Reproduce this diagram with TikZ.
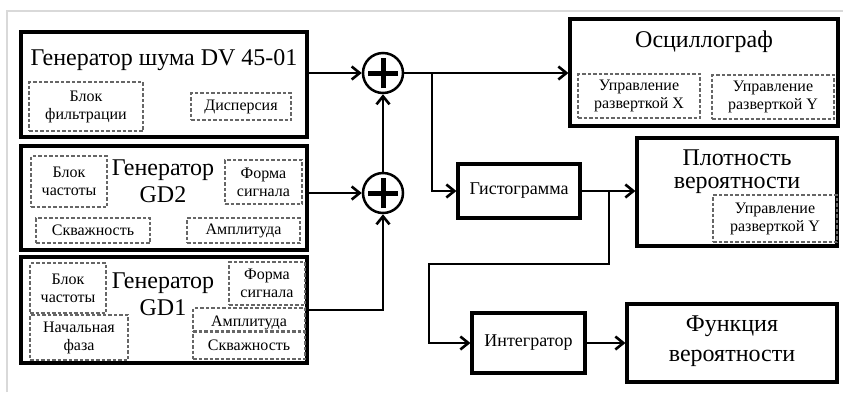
\documentclass[tikz,border=0pt]{standalone}
\usepackage{fontspec}
\setmainfont{Liberation Serif}
\usetikzlibrary{arrows.meta}
\begin{document}
\begin{tikzpicture}[x=1pt,y=-1pt,
  mainbox/.style={draw, line width=3.2pt, inner sep=0pt, align=center},
  subbox/.style={draw=black!60, dash pattern=on 3.5pt off 2pt, line width=1.1pt,
    inner sep=0pt, align=center, font=\fontsize{16}{18}\selectfont},
  bigtext/.style={align=center, inner sep=0pt, font=\fontsize{24}{27}\selectfont},
  midtext/.style={font=\fontsize{18}{21}\selectfont},
  sumnode/.style={draw, circle, line width=2.5pt, minimum size=40pt, inner sep=0pt},
  plusbar/.style={line width=5pt},
  conn/.style={line width=2.6pt, -{Straight Barb[length=8pt,width=13pt]}},
  wire/.style={line width=2.6pt}]

\useasboundingbox (0,0) rectangle (843,392);

% light frame round the sheet
\draw[black!15, line width=1.2pt] (7,392) -- (7,11) -- (843,11);

% --- noise generator ---
\node[mainbox, minimum width=286pt, minimum height=105pt] (noise) at (164,84.5) {};
\node[bigtext] (tnoise) at (164,60) {Генератор шума DV 45-01};
\node[subbox, minimum width=114pt, minimum height=49pt] (nf1) at (86,106.5) {Блок\\фильтрации};
\node[subbox, minimum width=100pt, minimum height=27pt] (nf2) at (241,106.5) {Дисперсия};

% --- generator GD2 ---
\node[mainbox, minimum width=286pt, minimum height=104pt] (gd2) at (164,198) {};
\node[bigtext] (tgd2) at (163,181.5) {Генератор\\GD2};
\node[subbox, minimum width=76pt, minimum height=51pt] (g2a) at (69,181.5) {Блок\\частоты};
\node[subbox, minimum width=77pt, minimum height=44pt] (g2b) at (263.5,182) {Форма\\сигнала};
\node[subbox, minimum width=114pt, minimum height=25pt] (g2c) at (93,230.5) {Скважность};
\node[subbox, minimum width=113pt, minimum height=25pt] (g2d) at (243.5,230.5) {Амплитуда};

% --- generator GD1 ---
\node[mainbox, minimum width=286pt, minimum height=106pt] (gd1) at (164,310) {};
\node[bigtext] (tgd1) at (163,294) {Генератор\\GD1};
\node[subbox, minimum width=76pt, minimum height=50pt] (g1a) at (68,288) {Блок\\частоты};
\node[subbox, minimum width=76pt, minimum height=43pt] (g1b) at (267,283.5) {Форма\\сигнала};
\node[subbox, minimum width=98pt, minimum height=45pt] (g1c) at (79,337.5) {Начальная\\фаза};
\node[subbox, minimum width=112pt, minimum height=23pt] (g1d) at (249,319.5) {};
\node[font=\fontsize{16}{18}\selectfont] (g1dt) at (249,323) {Амплитуда};
\node[subbox, minimum width=112pt, minimum height=27pt] (g1e) at (249,345.5) {Скважность};

% --- adders ---
\node[sumnode] (s1) at (383,73) {};
\node[sumnode] (s2) at (383,193) {};
\foreach \s in {s1,s2}{
  \draw[plusbar] ([xshift=-15pt]\s.center) -- ([xshift=15pt]\s.center);
  \draw[plusbar] ([yshift=-15pt]\s.center) -- ([yshift=15pt]\s.center);
}

% --- oscilloscope ---
\node[mainbox, minimum width=268pt, minimum height=107pt] (osc) at (704,72.5) {};
\node[bigtext] (tosc) at (704,42) {Осциллограф};
\node[subbox, minimum width=122pt, minimum height=44pt] (o1) at (639,96) {Управление\\разверткой X};
\node[subbox, minimum width=122pt, minimum height=44pt] (o2) at (773,97) {Управление\\разверткой Y};

% --- histogram, density ---
\node[mainbox, midtext, minimum width=122pt, minimum height=54pt] (hist) at (519,191) {Гистограмма};
\node[mainbox, minimum width=200pt, minimum height=108pt] (dens) at (737,192) {};
\node[bigtext, font=\fontsize{24}{23}\selectfont] (tdens) at (737,172) {Плотность\\вероятности};
\node[subbox, minimum width=124pt, minimum height=47pt] (d1) at (775,218.5) {Управление\\разверткой Y};

% --- integrator, distribution function ---
\node[mainbox, midtext, minimum width=113pt, minimum height=60pt] (integ) at (528.5,343) {Интегратор};
\node[mainbox, minimum width=210pt, minimum height=78pt] (func) at (732,343) {};
\node[bigtext, font=\fontsize{24}{30}\selectfont] (tfunc) at (732,341) {Функция\\вероятности};

% --- connections ---
\coordinate (j1) at (432,73);
\coordinate (j2) at (609,191);
\coordinate (k1) at (609,264);
\coordinate (k2) at (429,264);

\draw[conn] (noise.east |- s1) -- (s1.west);
\draw[conn] (gd2.east |- s2) -- (s2.west);
\draw[conn] (gd1.east) -| (s2.south);
\draw[conn] (s2.north) -- (s1.south);
\draw[conn] (s1.east) -- (s1.east -| osc.west);
\draw[conn] (j1) |- (hist.west);
\draw[conn] (hist.east) -- (hist.east -| dens.west);
\draw[conn] (j2) -- (k1) -- (k2) |- (integ.west);
\draw[conn] (integ.east) -- (integ.east -| func.west);
\end{tikzpicture}
\end{document}
